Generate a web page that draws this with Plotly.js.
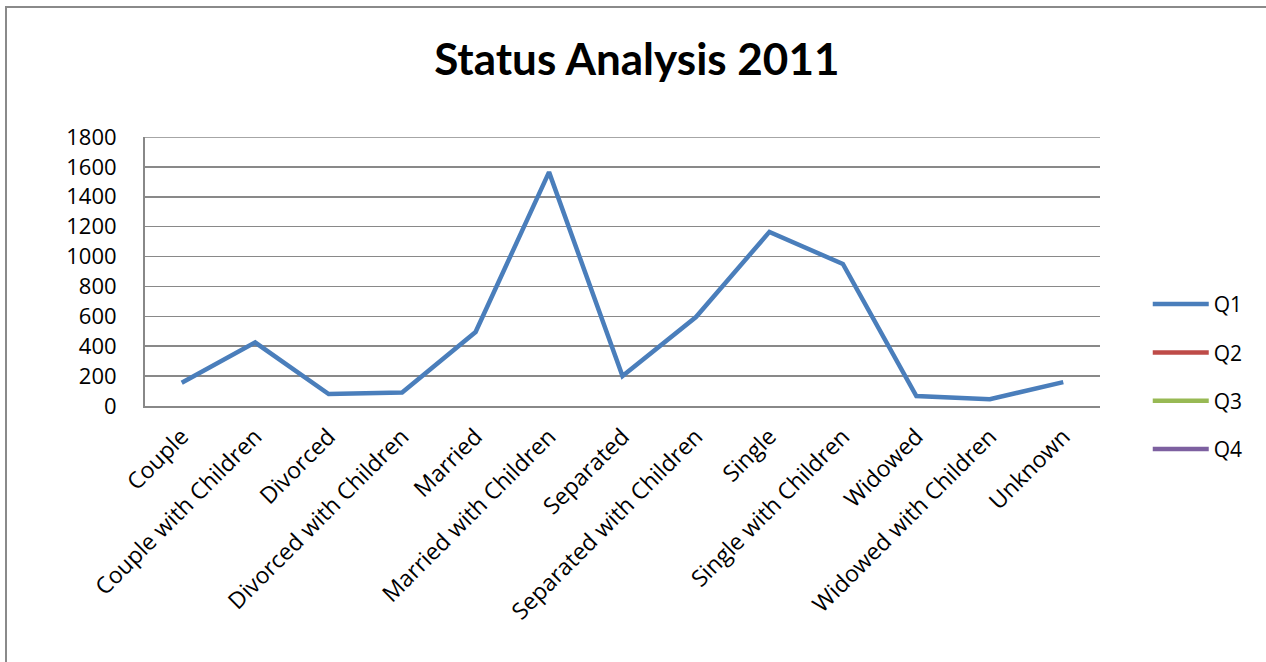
<!DOCTYPE html>
<html>
<head>
<meta charset="utf-8">
<script src="https://cdn.plot.ly/plotly-3.0.1.min.js"></script>
<style>
html,body{margin:0;padding:0;background:#fff;overflow:hidden;}
#frame{position:absolute;left:5px;top:6px;width:1400px;height:700px;border:2px solid #8a8a8a;box-sizing:border-box;}
#chart{position:absolute;left:0;top:0;width:1266px;height:662px;}
</style>
</head>
<body>
<div id="frame"></div>
<div id="chart"></div>
<script>
const categories = ["Couple","Couple with Children","Divorced","Divorced with Children","Married","Married with Children","Separated","Separated with Children","Single","Single with Children","Widowed","Widowed with Children","Unknown"];
const q1 = [155, 425, 80, 90, 495, 1565, 200, 595, 1165, 950, 67, 45, 160];
const q2 = [null,null,null,null,null,null,null,null,null,null,null,null,null];
const q3 = [null,null,null,null,null,null,null,null,null,null,null,null,null];
const q4 = [null,null,null,null,null,null,null,null,null,null,null,null,null];
const seriesNames = ["Q1","Q2","Q3","Q4"];
const seriesColors = ["#4a7ebb","#be4b48","#98b954","#7d60a0"];
const seriesValues = [q1,q2,q3,q4];
const yTicks = [0,200,400,600,800,1000,1200,1400,1600,1800];

const traces = seriesValues.map((v,i)=>({
  type:'scatter', mode:'lines', x:categories, y:v, name:seriesNames[i],
  legendgroup:'g'+i,
  line:{color:seriesColors[i], width:4.5},
  connectgaps:false
}));

const FONT = '"Open Sans", Lato, sans-serif';
const layout = {
  width:1266, height:662,
  paper_bgcolor:'rgba(0,0,0,0)', plot_bgcolor:'rgba(0,0,0,0)',
  margin:{l:145, r:166, t:137, b:256},
  font:{family:FONT, size:20, color:'#000'},
  title:{text:'<b>Status Analysis 2011</b>', x:0.503, xanchor:'center', y:0.91, yanchor:'middle',
         font:{family:'Lato, "Open Sans", sans-serif', size:44, color:'#000'}},
  xaxis:{type:'category', range:[-0.5,12.5], tickangle:-45, showgrid:false, showline:true,
         linecolor:'#888', linewidth:2, ticks:'', tickfont:{family:FONT, size:23}, automargin:false,
         ticklabelstandoff:6},
  yaxis:{range:[0,1800], tickvals:yTicks, showgrid:true, gridcolor:'#898989', gridwidth:1.6,
         showline:true, linecolor:'#888', linewidth:2, ticks:'', zeroline:false,
         tickfont:{family:FONT, size:22}, automargin:false, ticklabelstandoff:22},
  shapes:[{type:'line', xref:'paper', x0:0, x1:1, yref:'y', y0:yTicks[yTicks.length-1], y1:yTicks[yTicks.length-1],
           line:{color:'#898989', width:1.6}, layer:'below'}],
  showlegend:true,
  legend:{x:1.05, xanchor:'left', y:0.108, yanchor:'middle', tracegroupgap:18,
          itemwidth:56, font:{family:FONT, size:21}}
};
Plotly.newPlot('chart', traces, layout, {staticPlot:true, displayModeBar:false});
</script>
</body>
</html>
